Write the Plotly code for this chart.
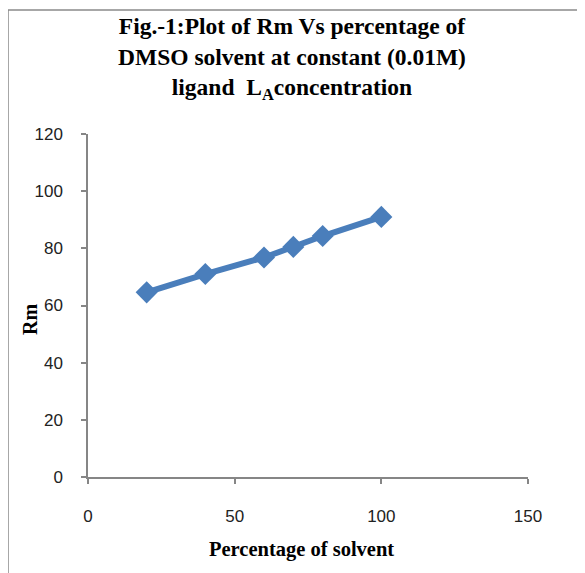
import plotly.graph_objects as go

solvent_pct = [20, 40, 60, 70, 80, 100]
rm_values = [64.6, 71.0, 76.8, 80.5, 84.3, 91.0]
x_ticks = [0, 50, 100, 150]
y_ticks = [0, 20, 40, 60, 80, 100, 120]

OFF = 8  # page body margin offset
W, H = 585 - OFF, 573 - OFF
L, T = 88 - OFF, 134 - OFF
R = 585 - 528
B = 573 - 477
pw, ph = W - L - R, H - T - B

def px2paper_x(px):
    return (px - OFF - L) / pw

def px2paper_y(py):
    return (H - B - (py - OFF)) / ph

fig = go.Figure()
fig.add_trace(go.Scatter(
    x=solvent_pct, y=rm_values, mode="lines+markers",
    line=dict(color="#4a7ebb", width=6),
    marker=dict(symbol="diamond", size=17, color="#4a7ebb"),
    showlegend=False,
))

axis_common = dict(showgrid=False, zeroline=False, showline=True,
                   linecolor="#868686", linewidth=1.5, ticks="outside",
                   tickcolor="#868686", ticklen=5, tickwidth=1.5,
                   tickfont=dict(family="Liberation Sans", size=17, color="#222"))

fig.update_layout(
    width=W, height=H,
    margin=dict(l=L, r=R, t=T, b=B),
    plot_bgcolor="white", paper_bgcolor="white",
    xaxis=dict(range=[0, 150], tickvals=x_ticks, ticklabelstandoff=18, **axis_common),
    yaxis=dict(range=[0, 120], tickvals=y_ticks, ticklabelstandoff=15, **axis_common),
    shapes=[dict(type="rect", xref="paper", yref="paper",
                 x0=px2paper_x(8), x1=px2paper_x(620),
                 y0=px2paper_y(620), y1=px2paper_y(10),
                 line=dict(color="#8a8a8a", width=1.5), layer="below")],
    annotations=[
        dict(text="<b>Fig.-1:Plot of Rm Vs percentage of<br>DMSO solvent at constant (0.01M)<br>ligand  L<sub>A</sub>concentration</b>",
             xref="paper", yref="paper", x=px2paper_x(292), y=px2paper_y(58),
             xanchor="center", yanchor="middle", showarrow=False,
             font=dict(family="Liberation Serif", size=23.5, color="black")),
        dict(text="<b>Rm</b>", textangle=-90, xref="paper", yref="paper",
             x=px2paper_x(30), y=px2paper_y(320), xanchor="center", yanchor="middle",
             showarrow=False, font=dict(family="Liberation Serif", size=20, color="black")),
        dict(text="<b>Percentage of solvent</b>", xref="paper", yref="paper",
             x=px2paper_x(301), y=px2paper_y(549), xanchor="center", yanchor="middle",
             showarrow=False, font=dict(family="Liberation Serif", size=20.5, color="black")),
    ],
)

fig.write_html("out.html")
